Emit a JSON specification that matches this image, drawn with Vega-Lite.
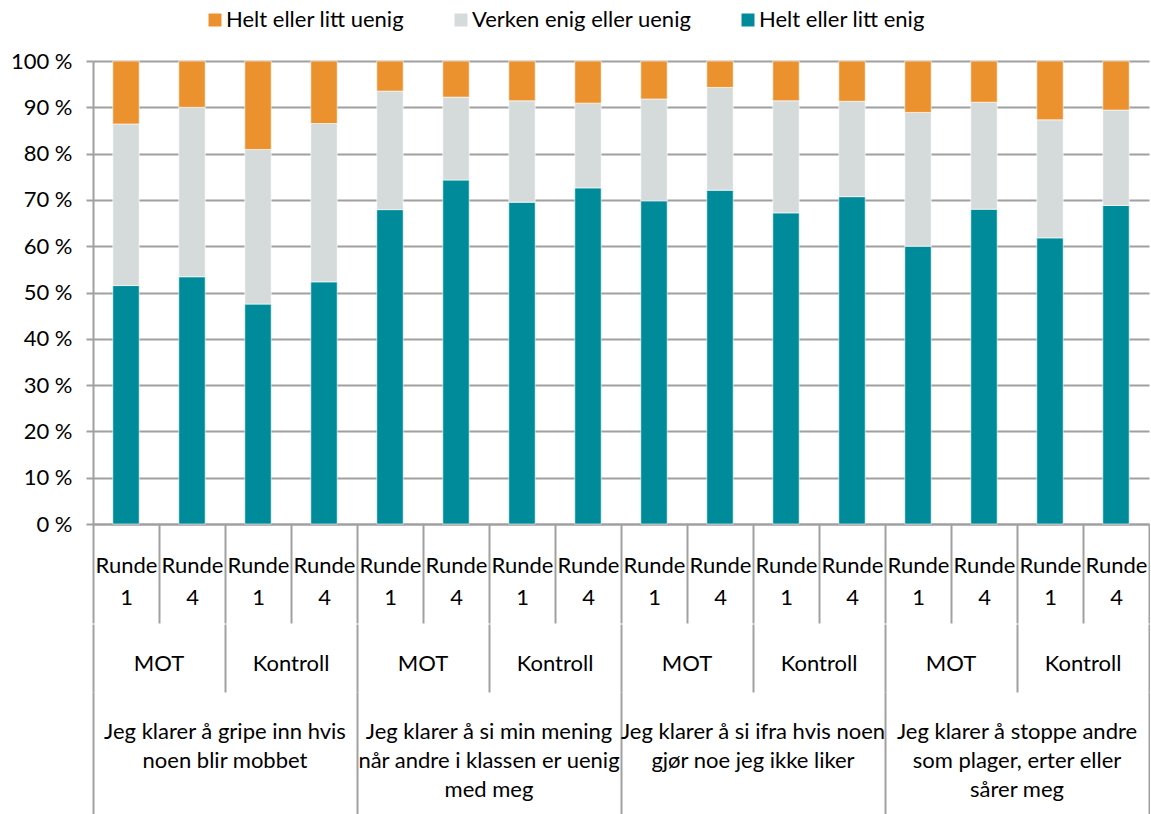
{
  "$schema": "https://vega.github.io/schema/vega-lite/v6.json",
  "padding": {"left": 10, "top": 9, "right": 0, "bottom": 0},
  "spacing": 0,
  "config": {
    "font": "Lato",
    "view": {"stroke": null},
    "text": {"font": "Lato", "fontSize": 22, "color": "black"},
    "axis": {"labelFont": "Lato", "labelFontSize": 22, "labelColor": "black"}
  },
  "datasets": {
    "bars": [
      {"key": "1|MOT|Runde 1", "cat": "Helt eller litt enig", "v": 51.5}, {"key": "1|MOT|Runde 1", "cat": "Verken enig eller uenig", "v": 34.9}, {"key": "1|MOT|Runde 1", "cat": "Helt eller litt uenig", "v": 13.6},
      {"key": "1|MOT|Runde 4", "cat": "Helt eller litt enig", "v": 53.4}, {"key": "1|MOT|Runde 4", "cat": "Verken enig eller uenig", "v": 36.6}, {"key": "1|MOT|Runde 4", "cat": "Helt eller litt uenig", "v": 10.0},
      {"key": "1|Kontroll|Runde 1", "cat": "Helt eller litt enig", "v": 47.5}, {"key": "1|Kontroll|Runde 1", "cat": "Verken enig eller uenig", "v": 33.4}, {"key": "1|Kontroll|Runde 1", "cat": "Helt eller litt uenig", "v": 19.1},
      {"key": "1|Kontroll|Runde 4", "cat": "Helt eller litt enig", "v": 52.3}, {"key": "1|Kontroll|Runde 4", "cat": "Verken enig eller uenig", "v": 34.2}, {"key": "1|Kontroll|Runde 4", "cat": "Helt eller litt uenig", "v": 13.5},
      {"key": "2|MOT|Runde 1", "cat": "Helt eller litt enig", "v": 67.9}, {"key": "2|MOT|Runde 1", "cat": "Verken enig eller uenig", "v": 25.6}, {"key": "2|MOT|Runde 1", "cat": "Helt eller litt uenig", "v": 6.5},
      {"key": "2|MOT|Runde 4", "cat": "Helt eller litt enig", "v": 74.3}, {"key": "2|MOT|Runde 4", "cat": "Verken enig eller uenig", "v": 17.9}, {"key": "2|MOT|Runde 4", "cat": "Helt eller litt uenig", "v": 7.8},
      {"key": "2|Kontroll|Runde 1", "cat": "Helt eller litt enig", "v": 69.5}, {"key": "2|Kontroll|Runde 1", "cat": "Verken enig eller uenig", "v": 21.9}, {"key": "2|Kontroll|Runde 1", "cat": "Helt eller litt uenig", "v": 8.6},
      {"key": "2|Kontroll|Runde 4", "cat": "Helt eller litt enig", "v": 72.6}, {"key": "2|Kontroll|Runde 4", "cat": "Verken enig eller uenig", "v": 18.3}, {"key": "2|Kontroll|Runde 4", "cat": "Helt eller litt uenig", "v": 9.1},
      {"key": "3|MOT|Runde 1", "cat": "Helt eller litt enig", "v": 69.8}, {"key": "3|MOT|Runde 1", "cat": "Verken enig eller uenig", "v": 22.0}, {"key": "3|MOT|Runde 1", "cat": "Helt eller litt uenig", "v": 8.2},
      {"key": "3|MOT|Runde 4", "cat": "Helt eller litt enig", "v": 72.1}, {"key": "3|MOT|Runde 4", "cat": "Verken enig eller uenig", "v": 22.2}, {"key": "3|MOT|Runde 4", "cat": "Helt eller litt uenig", "v": 5.7},
      {"key": "3|Kontroll|Runde 1", "cat": "Helt eller litt enig", "v": 67.2}, {"key": "3|Kontroll|Runde 1", "cat": "Verken enig eller uenig", "v": 24.2}, {"key": "3|Kontroll|Runde 1", "cat": "Helt eller litt uenig", "v": 8.6},
      {"key": "3|Kontroll|Runde 4", "cat": "Helt eller litt enig", "v": 70.7}, {"key": "3|Kontroll|Runde 4", "cat": "Verken enig eller uenig", "v": 20.6}, {"key": "3|Kontroll|Runde 4", "cat": "Helt eller litt uenig", "v": 8.7},
      {"key": "4|MOT|Runde 1", "cat": "Helt eller litt enig", "v": 60.0}, {"key": "4|MOT|Runde 1", "cat": "Verken enig eller uenig", "v": 28.9}, {"key": "4|MOT|Runde 1", "cat": "Helt eller litt uenig", "v": 11.1},
      {"key": "4|MOT|Runde 4", "cat": "Helt eller litt enig", "v": 68.0}, {"key": "4|MOT|Runde 4", "cat": "Verken enig eller uenig", "v": 23.1}, {"key": "4|MOT|Runde 4", "cat": "Helt eller litt uenig", "v": 8.9},
      {"key": "4|Kontroll|Runde 1", "cat": "Helt eller litt enig", "v": 61.8}, {"key": "4|Kontroll|Runde 1", "cat": "Verken enig eller uenig", "v": 25.5}, {"key": "4|Kontroll|Runde 1", "cat": "Helt eller litt uenig", "v": 12.7},
      {"key": "4|Kontroll|Runde 4", "cat": "Helt eller litt enig", "v": 68.8}, {"key": "4|Kontroll|Runde 4", "cat": "Verken enig eller uenig", "v": 20.6}, {"key": "4|Kontroll|Runde 4", "cat": "Helt eller litt uenig", "v": 10.6}
    ],
    "groups": [
      {"key": "1|MOT", "g": "MOT"}, {"key": "1|Kontroll", "g": "Kontroll"},
      {"key": "2|MOT", "g": "MOT"}, {"key": "2|Kontroll", "g": "Kontroll"},
      {"key": "3|MOT", "g": "MOT"}, {"key": "3|Kontroll", "g": "Kontroll"},
      {"key": "4|MOT", "g": "MOT"}, {"key": "4|Kontroll", "g": "Kontroll"}
    ],
    "questions": [
      {"key": "1", "q": "Jeg klarer å gripe inn hvis\nnoen blir mobbet"},
      {"key": "2", "q": "Jeg klarer å si min mening\nnår andre i klassen er uenig\nmed meg"},
      {"key": "3", "q": "Jeg klarer å si ifra hvis noen\ngjør noe jeg ikke liker"},
      {"key": "4", "q": "Jeg klarer å stoppe andre\nsom plager, erter eller\nsårer meg"}
    ]
  },
  "vconcat": [
    {
      "width": 1056,
      "height": 463,
      "data": {"name": "bars"},
      "transform": [
        {"calculate": "indexof(['Helt eller litt enig','Verken enig eller uenig','Helt eller litt uenig'], datum.cat)", "as": "k"}
      ],
      "mark": {"type": "bar", "width": {"band": 0.4}, "stroke": "#ffffff", "strokeWidth": 0.6},
      "encoding": {
        "x": {
          "field": "key", "type": "nominal", "sort": null,
          "scale": {"paddingInner": 0, "paddingOuter": 0},
          "axis": {
            "title": null,
            "labelExpr": "isValid(datum.value) ? split(split(datum.value, '|')[2], ' ') : ''",
            "labelAngle": 0,
            "labelOverlap": false,
            "tickBand": "extent",
            "tickSize": 99,
            "tickColor": "#A0A0A0",
            "tickWidth": 2,
            "domainColor": "#A0A0A0",
            "domainWidth": 2,
            "labelPadding": -68,
            "labelBaseline": "top",
            "labelLineHeight": 32,
            "labelFontSize": 22
          }
        },
        "y": {
          "field": "v", "type": "quantitative", "stack": "zero",
          "scale": {"domain": [0, 100]},
          "axis": {
            "title": null,
            "values": [0, 10, 20, 30, 40, 50, 60, 70, 80, 90, 100],
            "labelExpr": "datum.value + ' %'",
            "tickSize": 7,
            "tickColor": "#A0A0A0",
            "tickWidth": 2,
            "domainColor": "#A0A0A0",
            "domainWidth": 2,
            "gridColor": "#A0A0A0",
            "gridWidth": 2,
            "labelPadding": 14,
            "labelFontSize": 22
          }
        },
        "color": {
          "field": "cat", "type": "nominal",
          "scale": {
            "domain": ["Helt eller litt uenig", "Verken enig eller uenig", "Helt eller litt enig"],
            "range": ["#EB912D", "#D5DBDB", "#008B9A"]
          },
          "legend": {
            "title": null,
            "orient": "none",
            "direction": "horizontal",
            "legendX": 111,
            "legendY": -52,
            "symbolType": "square",
            "symbolSize": 169,
            "symbolStrokeWidth": 0,
            "labelFontSize": 22,
            "labelFont": "Lato",
            "labelColor": "black",
            "labelLimit": 0,
            "labelOffset": 0,
            "columnPadding": 45
          }
        },
        "order": {"field": "k"}
      }
    },
    {
      "width": 1056,
      "height": 68,
      "data": {"name": "groups"},
      "mark": {"type": "text", "fontSize": 22, "dy": 6},
      "encoding": {
        "x": {
          "field": "key", "type": "nominal", "sort": null,
          "scale": {"paddingInner": 0, "paddingOuter": 0},
          "axis": {"title": null, "labels": false, "ticks": false, "domain": false, "grid": true, "tickBand": "extent", "gridColor": "#A0A0A0", "gridWidth": 2}
        },
        "text": {"field": "g"}
      }
    },
    {
      "width": 1056,
      "height": 123,
      "data": {"name": "questions"},
      "mark": {"type": "text", "fontSize": 22, "baseline": "top", "lineBreak": "\n", "lineHeight": 29, "dy": -32},
      "encoding": {
        "x": {
          "field": "key", "type": "nominal", "sort": null,
          "scale": {"paddingInner": 0, "paddingOuter": 0},
          "axis": {"title": null, "labels": false, "ticks": false, "domain": false, "grid": true, "tickBand": "extent", "gridColor": "#A0A0A0", "gridWidth": 2}
        },
        "text": {"field": "q"}
      }
    }
  ]
}
